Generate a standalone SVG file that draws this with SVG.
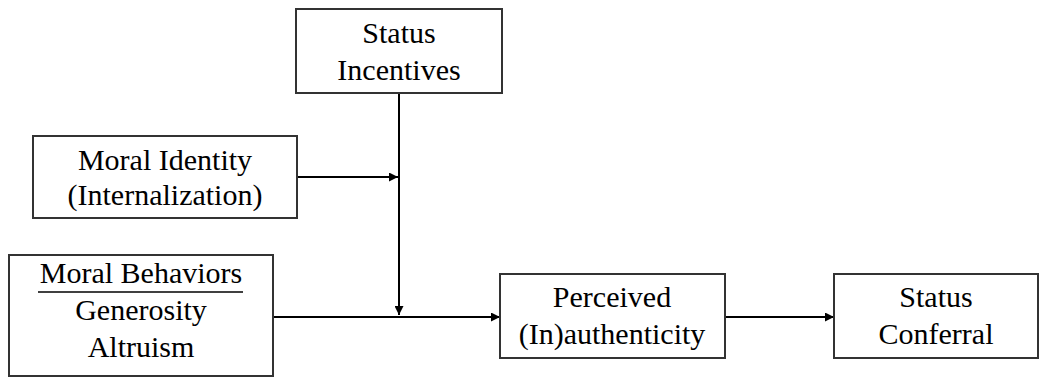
<svg xmlns="http://www.w3.org/2000/svg" width="1039" height="377" viewBox="0 0 1039 377">
<style>
.box{fill:#fff;stroke:#333;stroke-width:2}
.t{font-family:'Liberation Serif','DejaVu Serif',serif;font-size:30px;fill:#000;text-anchor:middle}
.c{stroke:#000;stroke-width:2;fill:none}
</style>
<defs>
<marker id="ah" viewBox="0 0 10 10" refX="10" refY="5" markerWidth="10" markerHeight="9" markerUnits="userSpaceOnUse" orient="auto">
<path d="M0,0 L10,5 L0,10 z" fill="#000"/>
</marker>
</defs>
<rect width="1039" height="377" fill="#fff"/>
<g id="connectors">
<line class="c" x1="399" y1="93" x2="399" y2="315" marker-end="url(#ah)"/>
<line class="c" x1="297" y1="177" x2="398" y2="177" marker-end="url(#ah)"/>
<line class="c" x1="273" y1="317" x2="500" y2="317" marker-end="url(#ah)"/>
<line class="c" x1="725" y1="317" x2="834" y2="317" marker-end="url(#ah)"/>
</g>
<g id="status-incentives">
<rect class="box" x="296" y="9" width="206" height="84"/>
<text class="t" x="399" y="43" font-family="Liberation Serif, serif">Status</text>
<text class="t" x="399" y="80" font-family="Liberation Serif, serif">Incentives</text>
</g>
<g id="moral-identity">
<rect class="box" x="33" y="136" width="264" height="82"/>
<text class="t" x="165" y="170">Moral Identity</text>
<text class="t" x="165" y="205">(Internalization)</text>
</g>
<g id="moral-behaviors">
<rect class="box" x="9" y="255" width="264" height="121"/>
<text class="t" x="141" y="283">Moral Behaviors</text>
<line x1="38" y1="292" x2="243" y2="292" stroke="#000" stroke-width="1.5"/>
<text class="t" x="141" y="320">Generosity</text>
<text class="t" x="141" y="357">Altruism</text>
</g>
<g id="perceived">
<rect class="box" x="500" y="274" width="225" height="84"/>
<text class="t" x="612" y="307">Perceived</text>
<text class="t" x="612" y="344">(In)authenticity</text>
</g>
<g id="status-conferral">
<rect class="box" x="834" y="274" width="204" height="84"/>
<text class="t" x="936" y="307">Status</text>
<text class="t" x="936" y="344">Conferral</text>
</g>
</svg>
